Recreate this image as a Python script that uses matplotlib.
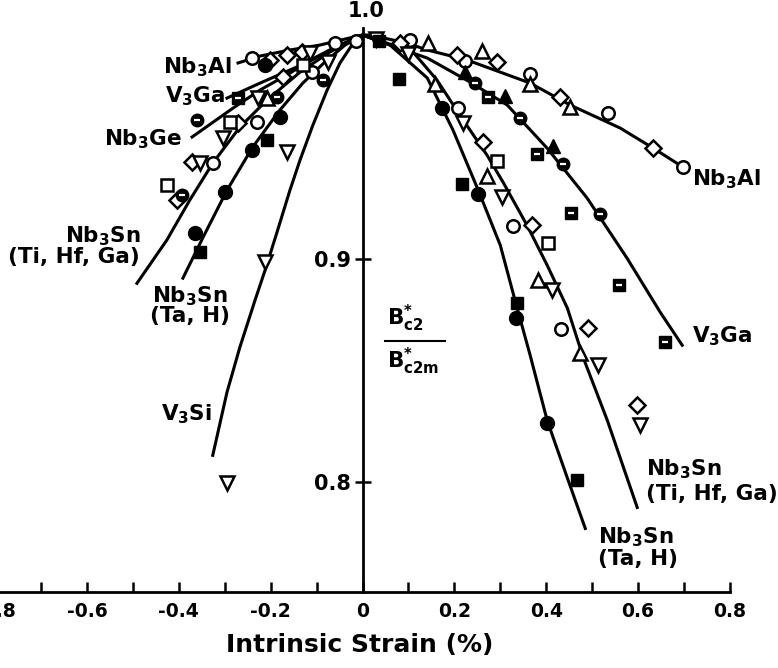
import matplotlib.pyplot as plt

plt.rcParams['font.family'] = ['DejaVu Sans']
plt.rcParams['font.weight'] = 'bold'
plt.rcParams['mathtext.default'] = 'regular'
plt.rcParams['axes.unicode_minus'] = False

# hand-fitted curves, normalised Bc2* vs intrinsic strain
nb3al_x = [-0.271, -0.223, -0.158, -0.093, -0.038, 0.0, 0.016, 0.097, 0.141, 0.228, 0.365, 0.452, 0.561, 0.633, 0.698]
nb3al_y = [0.9875, 0.9906, 0.9933, 0.9955, 0.9982, 1.0, 1.0, 0.9964, 0.9933, 0.9888, 0.9785, 0.9687, 0.9584, 0.9494, 0.9409]

v3ga_x = [-0.295, -0.223, -0.143, -0.071, 0.0, 0.060, 0.141, 0.234, 0.315, 0.402, 0.489, 0.576, 0.648, 0.696]
v3ga_y = [0.9718, 0.9785, 0.9857, 0.9933, 1.0, 0.9955, 0.9897, 0.9790, 0.9687, 0.9494, 0.9271, 0.9002, 0.8761, 0.8613]

nb3ge_x = [-0.371, -0.282, -0.223, -0.173, -0.121, -0.060, 0.0]
nb3ge_y = [0.9544, 0.9673, 0.9754, 0.9812, 0.9875, 0.9946, 1.0]

sn_ti_x = [-0.491, -0.426, -0.376, -0.326, -0.267, -0.208, -0.136, -0.071, 0.0,
           0.066, 0.110, 0.162, 0.212, 0.271, 0.306, 0.358, 0.402, 0.446, 0.481, 0.533, 0.598]
sn_ti_y = [0.8890, 0.9083, 0.9262, 0.9427, 0.9588, 0.9709, 0.9834, 0.9924, 1.0,
           0.9955, 0.9924, 0.9799, 0.9642, 0.9463, 0.9342, 0.9150, 0.8971, 0.8779, 0.8555, 0.8277, 0.7888]

sn_ta_x = [-0.391, -0.348, -0.295, -0.239, -0.180, -0.130, -0.082, -0.038, 0.0,
           0.060, 0.141, 0.197, 0.252, 0.300, 0.332, 0.365, 0.402, 0.444, 0.485]
sn_ta_y = [0.8913, 0.9092, 0.9306, 0.9499, 0.9664, 0.9785, 0.9879, 0.9955, 1.0,
           0.9955, 0.9808, 0.9575, 0.9306, 0.9060, 0.8814, 0.8568, 0.8277, 0.8031, 0.7794]

v3si_x = [0.0, -0.023, -0.049, -0.077, -0.108, -0.136, -0.158, -0.186, -0.212, -0.234, -0.267, -0.295, -0.326]
v3si_y = [1.0, 0.9955, 0.9875, 0.9754, 0.9597, 0.9441, 0.9306, 0.9119, 0.8949, 0.8814, 0.8604, 0.8403, 0.8121]

# measured points, grouped by symbol
open_circle_x = [0.103, 0.223, 0.365, 0.535, 0.698, 0.208, 0.328, 0.432, -0.241, -0.060, -0.110, -0.230, -0.326, -0.015]
open_circle_y = [0.9978, 0.9884, 0.9826, 0.9651, 0.9409, 0.9673, 0.9145, 0.8685, 0.9897, 0.9964, 0.9834, 0.9611, 0.9427, 0.9975]

open_diamond_x = [0.082, 0.206, 0.293, 0.430, 0.633, 0.263, 0.369, 0.491, 0.598, -0.202, -0.164, -0.132, -0.173, -0.271, -0.371, -0.404]
open_diamond_y = [0.9964, 0.9911, 0.9879, 0.9723, 0.9494, 0.9521, 0.9150, 0.8689, 0.8345, 0.9888, 0.9911, 0.9924, 0.9812, 0.9606, 0.9432, 0.9262]

open_tri_up_x = [0.143, 0.260, 0.365, 0.452, 0.158, 0.271, 0.382, 0.474, -0.208]
open_tri_up_y = [0.9964, 0.9928, 0.9781, 0.9678, 0.9781, 0.9369, 0.8904, 0.8577, 0.9718]

open_tri_down_x = [0.099, 0.219, 0.304, 0.413, 0.513, 0.605, -0.228, -0.304, -0.354, -0.164, -0.212, -0.075, -0.114, -0.295, 0.030]
open_tri_down_y = [0.9915, 0.9606, 0.9275, 0.8859, 0.8523, 0.8255, 0.9718, 0.9539, 0.9427, 0.9477, 0.8984, 0.9879, 0.9919, 0.7996, 0.9980]

open_square_x = [0.293, 0.404, -0.130, -0.289, -0.426]
open_square_y = [0.9436, 0.9069, 0.9866, 0.9611, 0.9329]

filled_square_x = [0.080, 0.217, 0.337, 0.467, -0.208, -0.354, 0.035]
filled_square_y = [0.9803, 0.9333, 0.8801, 0.8009, 0.9530, 0.9029, 0.9975]

filled_circle_x = [0.173, 0.252, 0.334, 0.402, -0.212, -0.180, -0.241, -0.300, -0.365]
filled_circle_y = [0.9673, 0.9289, 0.8734, 0.8264, 0.9866, 0.9633, 0.9485, 0.9298, 0.9114]

half_circle_x = [0.245, 0.343, 0.437, 0.517, -0.361, -0.186, -0.393, -0.086]
half_circle_y = [0.9785, 0.9629, 0.9423, 0.9199, 0.9620, 0.9723, 0.9284, 0.9799]

half_square_x = [0.273, 0.380, 0.454, 0.559, 0.659, -0.271]
half_square_y = [0.9723, 0.9468, 0.9204, 0.8881, 0.8626, 0.9718]

filled_tri_x = [0.223, 0.310, 0.415]
filled_tri_y = [0.9834, 0.9727, 0.9503]

xtick_major = [-0.8, -0.6, -0.4, -0.2, 0.0, 0.2, 0.4, 0.6, 0.8]
xtick_labels = ['-0.8', '-0.6', '-0.4', '-0.2', '0', '0.2', '0.4', '0.6', '0.8']
xtick_minor = [-0.7, -0.5, -0.3, -0.1, 0.1, 0.3, 0.5, 0.7]
ytick_vals = [0.8, 0.9]
ytick_labels = ['0.8', '0.9']

fig = plt.figure(figsize=(7.78, 6.68), dpi=100)
ax = fig.add_axes([-5 / 778, 1 - 592 / 668, 735 / 778, 563.7 / 668])
ax.set_xlim(-0.8, 0.8)
ax.set_ylim(0.751, 1.003)

for side in ['top', 'right']:
    ax.spines[side].set_visible(False)
ax.spines['left'].set_position(('data', 0))
ax.spines['left'].set_linewidth(2.0)
ax.spines['bottom'].set_linewidth(2.0)

ax.set_xticks(xtick_major)
ax.set_xticklabels(xtick_labels, fontsize=13.5, fontweight='bold')
ax.set_xticks(xtick_minor, minor=True)
ax.tick_params(axis='x', which='both', direction='in', length=7, width=1.8, pad=7)
ax.set_yticks(ytick_vals)
ax.set_yticklabels(ytick_labels, fontsize=15, fontweight='bold')
ax.tick_params(axis='y', direction='inout', length=11, width=1.8, pad=3)

ax.set_xlabel('Intrinsic Strain (%)', fontsize=18, fontweight='bold', va='center')
ax.xaxis.set_label_coords(0.4966, -0.094)

ax.annotate('1.0', xy=(0, 1.0), xytext=(2.5, 10), textcoords='offset points',
            ha='center', va='bottom', fontsize=15, fontweight='bold')

curves = [(nb3al_x, nb3al_y), (v3ga_x, v3ga_y), (nb3ge_x, nb3ge_y),
          (sn_ti_x, sn_ti_y), (sn_ta_x, sn_ta_y), (v3si_x, v3si_y)]
for cx, cy in curves:
    ax.plot(cx, cy, color='black', lw=2.2, clip_on=False, zorder=2)

opn = dict(linestyle='none', markerfacecolor='white', markeredgecolor='black',
           markeredgewidth=1.8, clip_on=False, zorder=3)
ax.plot(open_circle_x, open_circle_y, 'o', ms=9, **opn)
ax.plot(open_diamond_x, open_diamond_y, 'D', ms=8, **opn)
ax.plot(open_tri_up_x, open_tri_up_y, '^', ms=10, **opn)
ax.plot(open_tri_down_x, open_tri_down_y, 'v', ms=10, **opn)
ax.plot(open_square_x, open_square_y, 's', ms=8, **opn)

fill = dict(linestyle='none', color='black', clip_on=False, zorder=3)
ax.plot(filled_square_x, filled_square_y, 's', ms=9, **fill)
ax.plot(filled_circle_x, filled_circle_y, 'o', ms=10, **fill)
ax.plot(filled_tri_x, filled_tri_y, '^', ms=10, **fill)
ax.plot(half_circle_x, half_circle_y, 'o', ms=9, **fill)
ax.plot(half_square_x, half_square_y, 's', ms=8.5, **fill)
# white bar across the half-filled symbols
ax.plot(half_circle_x + half_square_x, half_circle_y + half_square_y, '_',
        color='white', ms=5, mew=1.6, linestyle='none', clip_on=False, zorder=4)

lab = dict(fontsize=15.5, fontweight='bold')
ax.text(-0.284, 0.9830, 'Nb$_3$Al', ha='right', va='baseline', **lab)
ax.text(-0.299, 0.9700, 'V$_3$Ga', ha='right', va='baseline', **lab)
ax.text(-0.393, 0.9508, 'Nb$_3$Ge', ha='right', va='baseline', **lab)
ax.text(-0.484, 0.9074, 'Nb$_3$Sn', ha='right', va='baseline', **lab)
ax.text(-0.484, 0.8980, '(Ti, Hf, Ga)', ha='right', va='baseline', **lab)
ax.text(-0.375, 0.8805, 'Nb$_3$Sn', ha='center', va='baseline', **lab)
ax.text(-0.375, 0.8716, '(Ta, H)', ha='center', va='baseline', **lab)
ax.text(-0.328, 0.8277, 'V$_3$Si', ha='right', va='baseline', **lab)

ax.text(0.717, 0.9329, 'Nb$_3$Al', ha='left', va='baseline', **lab)
ax.text(0.717, 0.8626, 'V$_3$Ga', ha='left', va='baseline', **lab)
ax.text(0.617, 0.8031, 'Nb$_3$Sn', ha='left', va='baseline', **lab)
ax.text(0.617, 0.7920, '(Ti, Hf, Ga)', ha='left', va='baseline', **lab)
ax.text(0.512, 0.7727, 'Nb$_3$Sn', ha='left', va='baseline', **lab)
ax.text(0.512, 0.7629, '(Ta, H)', ha='left', va='baseline', **lab)

# ordinate label drawn as a fraction
ax.text(0.053, 0.8702, 'B$_{c2}^{*}$', ha='left', va='baseline', **lab)
ax.plot([0.049, 0.180], [0.8631, 0.8631], color='black', lw=1.5)
ax.text(0.053, 0.8510, 'B$_{c2m}^{*}$', ha='left', va='baseline', **lab)

fig.savefig('out.png', dpi=100)
